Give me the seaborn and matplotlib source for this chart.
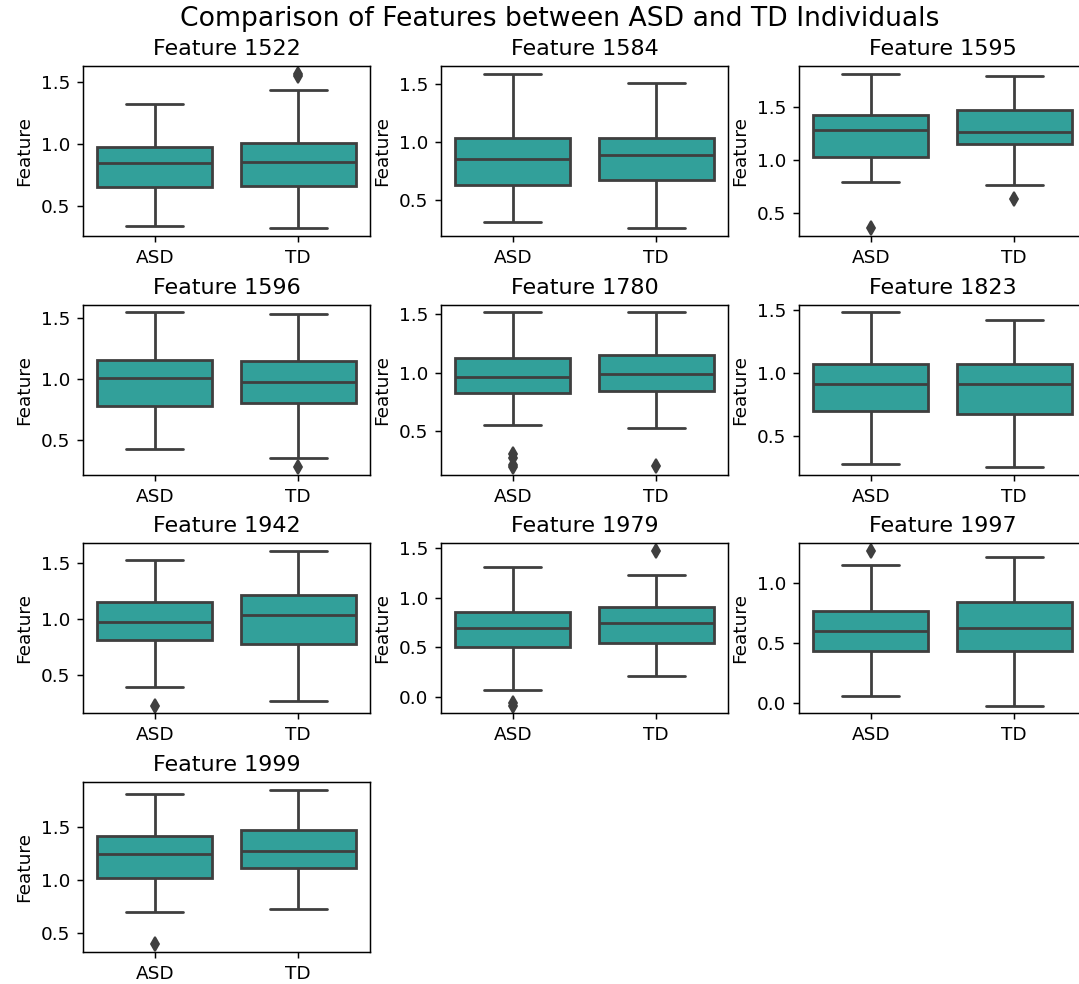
import numpy as np
import pandas as pd
import matplotlib
matplotlib.use("Agg")
import matplotlib.pyplot as plt
import seaborn as sns

# ---- data ----
features = ["1522", "1584", "1595", "1596", "1780", "1823", "1942", "1979", "1997", "1999"]
groups = ["ASD", "TD"]

asd_lo  = [0.34, 0.31, 0.80, 0.42, 0.55, 0.27, 0.39, 0.07, 0.06, 0.70]
asd_q1  = [0.655, 0.635, 1.032, 0.775, 0.827, 0.695, 0.815, 0.503, 0.437, 1.019]
asd_med = [0.85, 0.853, 1.283, 1.002, 0.963, 0.907, 0.979, 0.691, 0.600, 1.246]
asd_q3  = [0.98, 1.037, 1.428, 1.149, 1.121, 1.072, 1.156, 0.856, 0.762, 1.413]
asd_hi  = [1.324, 1.589, 1.818, 1.543, 1.516, 1.48, 1.528, 1.312, 1.142, 1.82]
asd_out = [[], [], [0.358], [], [0.19, 0.21, 0.27, 0.30], [], [0.225], [-0.09, -0.06], [1.262], [0.389]]

td_lo  = [0.32, 0.259, 0.764, 0.35, 0.527, 0.25, 0.266, 0.204, -0.019, 0.723]
td_q1  = [0.663, 0.675, 1.151, 0.80, 0.839, 0.674, 0.782, 0.54, 0.437, 1.114]
td_med = [0.857, 0.888, 1.268, 0.976, 0.986, 0.907, 1.042, 0.748, 0.625, 1.278]
td_q3  = [1.014, 1.037, 1.475, 1.145, 1.147, 1.072, 1.215, 0.905, 0.842, 1.47]
td_hi  = [1.438, 1.505, 1.80, 1.53, 1.516, 1.42, 1.612, 1.228, 1.212, 1.858]
td_out = [[1.55, 1.57], [], [0.636], [0.275], [0.20], [], [], [1.47], [], []]


def sample_from_stats(lo, q1, med, q3, hi, outs, k=6):
    """Build a sample whose box-plot statistics equal the given values."""
    low = sorted(o for o in outs if o < q1)
    high = sorted(o for o in outs if o > q3)
    below = low + [lo] * (k - len(low))
    above = [hi] * (k - len(high)) + high
    vals = below + [q1] + [q1] * (k - 1) + [med] + [med] * (k - 1) + [q3] + above
    return vals


rows = []
for i, f in enumerate(features):
    for g, (lo, q1, md, q3, hi, out) in zip(
        groups,
        [(asd_lo[i], asd_q1[i], asd_med[i], asd_q3[i], asd_hi[i], asd_out[i]),
         (td_lo[i], td_q1[i], td_med[i], td_q3[i], td_hi[i], td_out[i])]):
        for v in sample_from_stats(lo, q1, md, q3, hi, out):
            rows.append({"feature": f, "group": g, "value": v})
df = pd.DataFrame(rows)

# ---- plot ----
sns.set_theme(style="ticks")
plt.rcParams.update({
    "font.family": ["DejaVu Sans"],
    "axes.edgecolor": "black", "axes.linewidth": 0.8,
    "xtick.color": "black", "ytick.color": "black",
    "xtick.labelsize": 10, "ytick.labelsize": 10,
    "axes.labelsize": 10, "axes.titlesize": 12,
    "xtick.major.size": 3.5, "ytick.major.size": 3.5,
    "xtick.major.width": 0.8, "ytick.major.width": 0.8,
    "text.color": "black", "axes.labelcolor": "black",
})

W, H = 1079, 984
DPI = 400 / 3
fig = plt.figure(figsize=(W / DPI, H / DPI), dpi=DPI)
gs = fig.add_gridspec(4, 3, left=83 / W, right=1086 / W, top=1 - 66 / H, bottom=1 - 952 / H,
                      wspace=0.247, hspace=0.403)

for i, f in enumerate(features):
    ax = fig.add_subplot(gs[i // 3, i % 3])
    sub = df[df["feature"] == f]
    sns.boxplot(data=sub, x="group", y="value", order=groups, ax=ax,
                color="lightseagreen", saturation=0.75, linecolor="#3f3f3f", linewidth=1.5,
                fliersize=5,
                flierprops=dict(marker="d", markerfacecolor="#3f3f3f", markeredgecolor="#3f3f3f"))
    ax.set_title(f"Feature {f}")
    ax.set_xlabel("")
    ax.set_ylabel("Feature")

fig.suptitle("Comparison of Features between ASD and TD Individuals", fontsize=14.4,
             x=560 / W, y=1 - 19 / H, va="center")
fig.savefig("out.png", dpi=DPI)
